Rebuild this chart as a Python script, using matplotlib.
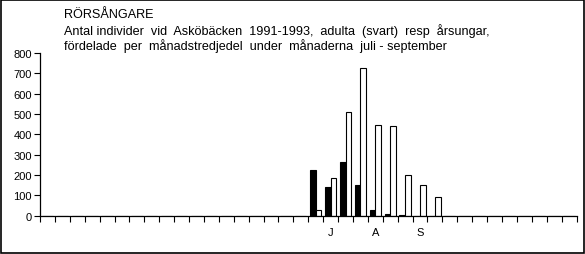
import matplotlib
matplotlib.use("Agg")
import matplotlib.pyplot as plt
import numpy as np

plt.rcParams['font.family'] = ['Liberation Sans', 'DejaVu Sans']

# 36 month-thirds (Jan..Dec x 3); data only July-September
n_periods = 36
adults = [0]*18 + [225, 141, 264, 151, 28, 8, 3, 0, 0] + [0]*9
juveniles = [0]*18 + [27, 185, 510, 725, 444, 439, 198, 149, 92] + [0]*9
month_labels = [''] * 36
month_labels[19] = 'J'
month_labels[22] = 'A'
month_labels[25] = 'S'
yticks = [0, 100, 200, 300, 400, 500, 600, 700, 800]

fig = plt.figure(figsize=(5.85, 2.55), dpi=100)
ax = fig.add_axes([40/585, 1-216.7/255, (576.5-40)/585, (216.7-54)/255])

x = np.arange(n_periods)
w = 0.38
ax.bar(x - w/2, adults, width=w, color='black', edgecolor='black', linewidth=0.8)
ax.bar(x + w/2, juveniles, width=w, color='white', edgecolor='black', linewidth=0.8)

ax.set_xlim(-0.5, n_periods - 0.5)
ax.set_ylim(0, 800)
ax.set_yticks(yticks)
ax.tick_params(axis='y', labelsize=8, length=4, width=0.8, pad=2)
ax.set_xticks(x)
ax.set_xticklabels(month_labels, fontsize=8)
ax.tick_params(axis='x', which='major', length=0, pad=8)
ax.set_xticks(np.arange(-0.5, n_periods, 1), minor=True)
ax.tick_params(axis='x', which='minor', length=4, width=0.8, direction='out')
for s in ['top', 'right']:
    ax.spines[s].set_visible(False)
for s in ['left', 'bottom']:
    ax.spines[s].set_linewidth(0.9)

fs = 9.1
fig.text(64/585, 1-15/255, 'RÖRSÅNGARE', fontsize=fs, va='center', ha='left')
fig.text(64/585, 1-31/255, 'Antal individer  vid  Asköbäcken  1991-1993,  adulta  (svart)  resp  årsungar,',
         fontsize=fs, va='center', ha='left')
fig.text(64/585, 1-46/255, 'fördelade  per  månadstredjedel  under  månaderna  juli - september',
         fontsize=fs, va='center', ha='left')

border = plt.Rectangle((0.001, 0.002), 0.997, 0.995, transform=fig.transFigure,
                       fill=False, edgecolor='black', linewidth=1.2)
fig.patches.append(border)

fig.savefig('out.png', dpi=100)
